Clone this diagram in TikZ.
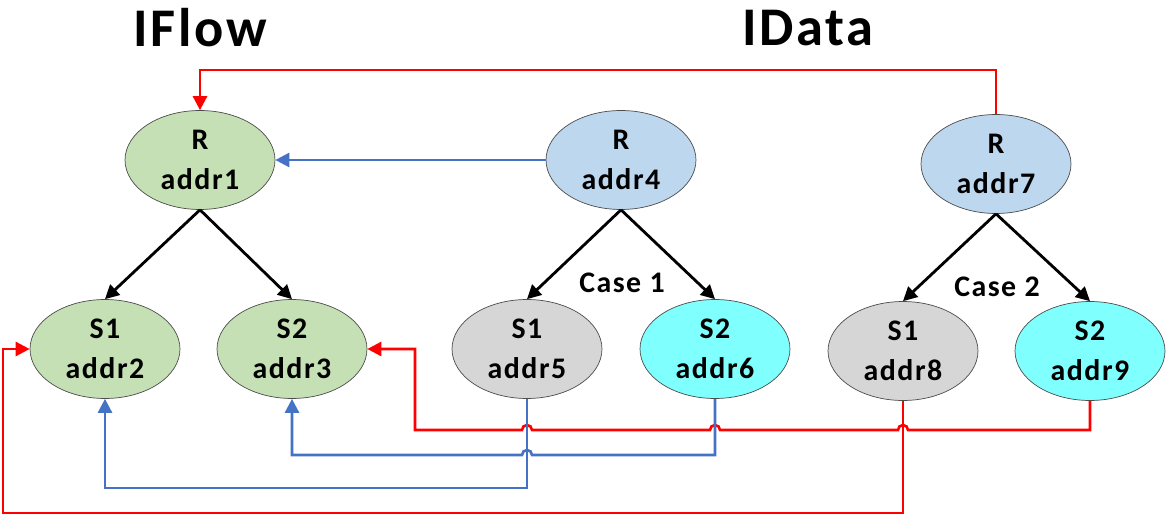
\documentclass[tikz,border=0pt]{standalone}
\usepackage{fontspec}
\setmainfont[LetterSpace=5]{Carlito}
\usetikzlibrary{shapes.geometric,arrows.meta}
\definecolor{flowgreen}{HTML}{C5E0B4}
\definecolor{datablue}{HTML}{BDD7EE}
\definecolor{slgray}{HTML}{D6D6D6}
\definecolor{slcyan}{HTML}{80FFFF}
\definecolor{linkblue}{HTML}{4472C4}
\begin{document}
\begin{tikzpicture}[
    x=0.02cm, y=-0.02cm, >={Triangle[length=0.28cm,width=0.28cm]},
    elem/.style={ellipse, draw=black!70, line width=0.4pt, inner sep=0pt,
                 minimum width=3cm, minimum height=1.98cm, align=center,
                 font=\fontsize{17}{23}\selectfont\bfseries},
    flow/.style={elem, fill=flowgreen},
    data/.style={elem, fill=datablue},
    grey/.style={elem, fill=slgray},
    cyan/.style={elem, fill=slcyan},
    title/.style={font=\fontsize{31}{36}\selectfont\bfseries},
    case/.style={font=\fontsize{17}{20}\selectfont\bfseries},
    tree/.style={->, line width=1.6pt, black},
    redlink/.style={->, line width=1.5pt, red},
    bluelink/.style={->, line width=1.5pt, linkblue},
    hop/.style={insert path={arc[start angle=0, end angle=180, radius=0.1cm]}}]
  \useasboundingbox (0,0) rectangle (1167,517);
  % titles
  \node[title] (t1) at (200,28) {IFlow};
  \node[title] (t2) at (808,28) {IData};
  % IFlow tree
  \node[flow] (a1) at (200,160) {R\\addr1};
  \node[flow] (a2) at (105,349) {S1\\addr2};
  \node[flow] (a3) at (292,349) {S2\\addr3};
  % IData tree, case 1
  \node[data] (a4) at (621,160) {R\\addr4};
  \node[grey] (a5) at (527,349) {S1\\addr5};
  \node[cyan] (a6) at (715,349) {S2\\addr6};
  \node[case] (c1) at (622,283) {Case 1};
  % IData tree, case 2
  \node[data] (a7) at (996,164) {R\\addr7};
  \node[grey] (a8) at (903,351) {S1\\addr8};
  \node[cyan] (a9) at (1090,351) {S2\\addr9};
  \node[case] (c2) at (997,287) {Case 2};
  % parent to children
  \draw[tree] (a1.south)--(a2.north); \draw[tree] (a1.south)--(a3.north);
  \draw[tree] (a4.south)--(a5.north); \draw[tree] (a4.south)--(a6.north);
  \draw[tree] (a7.south)--(a8.north); \draw[tree] (a7.south)--(a9.north);
  % links back to IFlow
  \draw[redlink] (a7.north) |- (200,70) -- (a1.north);
  \draw[bluelink] (a4.west) -- (a1.east);
  \draw[redlink] (a9.south) |- (908,430) [hop] -- (720,430) [hop]
    -- (532,430) [hop] -- (415,430) |- (a3.east);
  \draw[bluelink] (a6.south) |- (532,455) [hop] -- (292,455) -- (a3.south);
  \draw[bluelink] (a5.south) |- (105,488) -- (a2.south);
  \draw[redlink] (a8.south) |- (3,513) |- (a2.west);
\end{tikzpicture}
\end{document}
